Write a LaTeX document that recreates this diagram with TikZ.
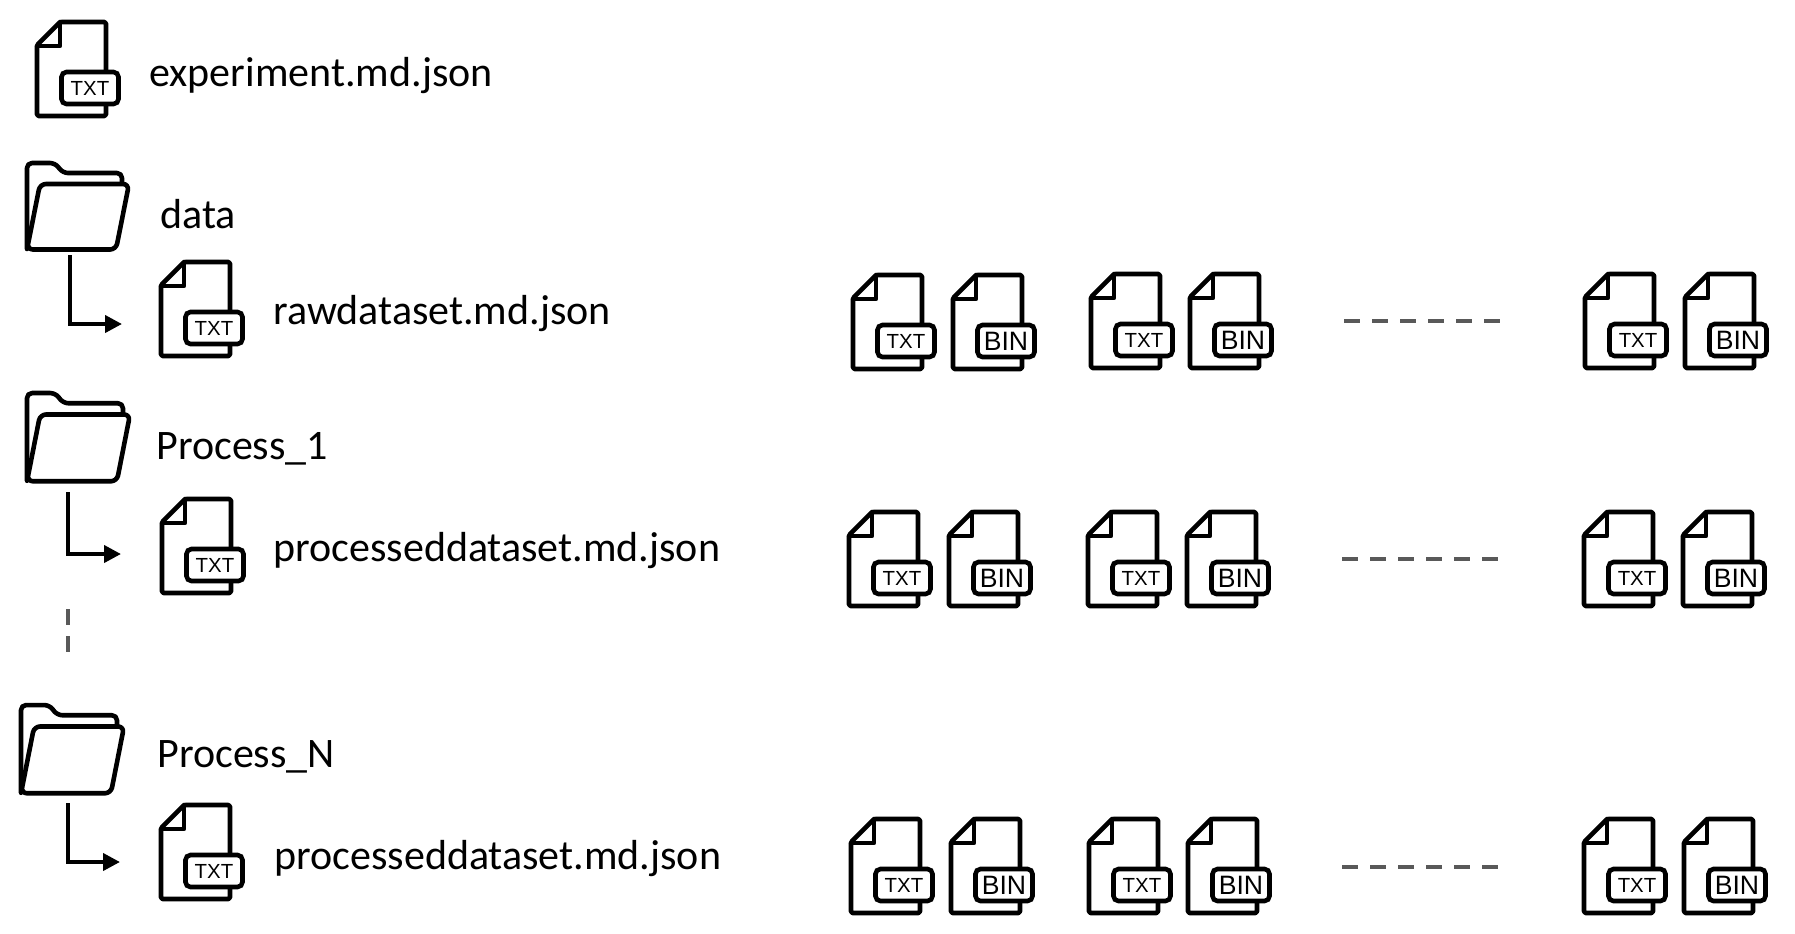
\documentclass[tikz,border=0pt]{standalone}
\usepackage{fontspec}
\setmainfont{Carlito}
\newfontfamily\tagfont{Liberation Sans}
\usetikzlibrary{
  arrows.meta,
  positioning,
}
\definecolor{dashgray}{RGB}{89, 89, 89}
\tikzstyle{iconline} = [
  line width=2.3pt,
  line join=round,
  line cap=round,
  fill=white,
]
\tikzstyle{tagbox} = [
  draw,
  fill=white,
  line width=2.3pt,
  rounded corners=2.5pt,
  inner sep=0,
  minimum width=28.5pt,
  minimum height=16pt,
]
\tikzstyle{filename} = [
  anchor=base west,
  inner sep=0,
  font=\fontsize{21pt}{24pt}\selectfont,
]
\tikzstyle{elbow} = [
  -{Triangle[length=8.5pt,width=8.5pt]},
  line width=2pt,
]
\tikzstyle{gapline} = [
  dashgray,
  line width=2pt,
  dash pattern=on 8pt off 6pt,
]
\newcommand{\fileoutline}{
  \draw [iconline, rounded corners=0.8pt] (2,25) -- (25,2) -- (71,2) -- (71,96) -- (2,96) -- cycle;
  \draw [iconline, fill=none] (25,2) -- (25,26) -- (2,26);
}
\tikzset{
  txtfile/.pic={
    \fileoutline
    \node [tagbox, font=\tagfont\fontsize{10.2pt}{12pt}\selectfont] (-tag) at (55,68) {TXT};
  },
  binfile/.pic={
    \fileoutline
    \node [tagbox, font=\tagfont\fontsize{13.3pt}{15pt}\selectfont] (-tag) at (55,68) {BIN};
  },
  foldericon/.pic={
    \draw [iconline, rounded corners=2.5pt] (2,88) -- (2,2) -- (30,2) -- (38,12) -- (97,12) -- (97,30);
    \draw [iconline, rounded corners=3pt] (15,23) -- (104,23) -- (91,88.5) -- (2,88.5) -- cycle;
  },
}

\begin{document}
\begin{tikzpicture}[x=0.5pt, y=-0.5pt]
  \useasboundingbox (0,0) rectangle (1795,933);

  %% top level file
  \pic (expfile) at (35,20) {txtfile};
  \node [filename] (expname) at (149,86) {experiment.md.json};

  %% folders
  \pic (datafolder) at (25,161) {foldericon};
  \pic [xscale=1.01, yscale=1.02] (onefolder) at (25,391) {foldericon};
  \pic [xscale=1.01, yscale=1.02] (nfolder) at (19,703) {foldericon};

  \node [filename] (dataname) at (160,228) {data};
  \node [filename] (onename) at (156,459) {Process\_1};
  \node [filename] (nname) at (157,767) {Process\_N};

  %% metadata files
  \pic (rawfile) at (159,260) {txtfile};
  \pic (onefile) at (160,497) {txtfile};
  \pic (nfile) at (159,803) {txtfile};

  \node [filename] (rawname) at (273,324) {rawdataset.md.json};
  \node [filename] (onemd) at (273,561) {processeddataset.md.json};
  \node [filename] (nmd) at (274,869) {processeddataset.md.json};

  %% folder to file
  \coordinate (dataout) at (70,255);
  \coordinate (datain) at (122,324);
  \coordinate (oneout) at (68,492);
  \coordinate (onein) at (121,554);
  \coordinate (nout) at (68,803);
  \coordinate (nin) at (120,862);
  \draw [elbow] (dataout) |- (datain);
  \draw [elbow] (oneout) |- (onein);
  \draw [elbow] (nout) |- (nin);

  %% data files
  \foreach \nm/\tx/\bx/\y in {
    ra/851/951/273, rb/1089/1188/272, rc/1583/1683/272,
    oa/847/947/510, ob/1086/1185/510, oc/1582/1681/510,
    na/849/949/817, nb/1087/1186/817, nc/1582/1682/817} {
    \pic (txt\nm) at (\tx,\y) {txtfile};
    \pic (bin\nm) at (\bx,\y) {binfile};
  }

  %% gaps
  \coordinate (rawgapa) at (1344,321);
  \coordinate (rawgapb) at (1500,321);
  \coordinate (onegapa) at (1342,559);
  \coordinate (onegapb) at (1498,559);
  \coordinate (ngapa) at (1342,867);
  \coordinate (ngapb) at (1498,867);
  \coordinate (foldgapa) at (68,609);
  \coordinate (foldgapb) at (68,653);
  \draw [gapline] (rawgapa) -- (rawgapb);
  \draw [gapline] (onegapa) -- (onegapb);
  \draw [gapline] (ngapa) -- (ngapb);
  \draw [gapline, dash pattern=on 8pt off 5.5pt] (foldgapa) -- (foldgapb);
\end{tikzpicture}
\end{document}
